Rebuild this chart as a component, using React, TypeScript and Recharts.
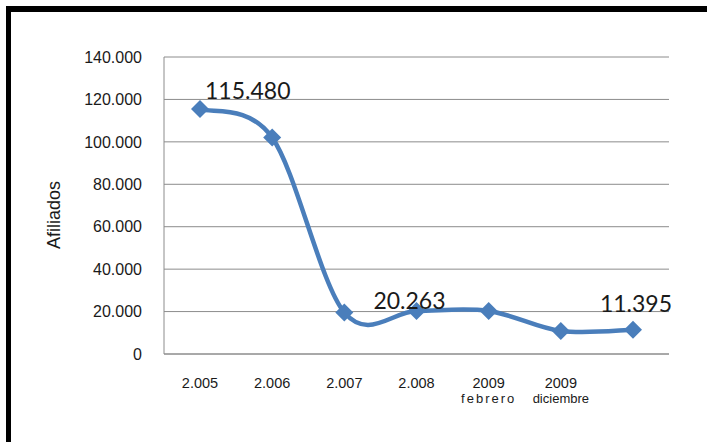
import React from "react"
import { CartesianGrid, LabelList, Line, LineChart, XAxis, YAxis } from "recharts"

const categories = ["2.005", "2.006", "2.007", "2.008", "2009\nfebrero", "2009\ndiciembre", ""]
const afiliados = [115480, 102000, 19600, 20263, 20300, 10850, 11395]
const showLabel = [true, false, false, true, false, false, true]
const yTicks = [0, 20000, 40000, 60000, 80000, 100000, 120000, 140000]

const data = categories.map((cat, i) => ({ cat, afiliados: afiliados[i], show: showLabel[i] }))

const fmt = (v: number) => String(v).replace(/\B(?=(\d{3})+(?!\d))/g, ".")

// Excel-like smoothed line (Catmull-Rom as cubic bezier)
function excelSmooth(context: any) {
  let pts: number[][] = []
  return {
    areaStart() {},
    areaEnd() {},
    lineStart() {
      pts = []
    },
    lineEnd() {
      if (!pts.length) return
      context.moveTo(pts[0][0], pts[0][1])
      for (let i = 0; i < pts.length - 1; i++) {
        const p0 = pts[Math.max(i - 1, 0)]
        const p1 = pts[i]
        const p2 = pts[i + 1]
        const p3 = pts[Math.min(i + 2, pts.length - 1)]
        context.bezierCurveTo(
          p1[0] + (p2[0] - p0[0]) / 6,
          p1[1] + (p2[1] - p0[1]) / 6,
          p2[0] - (p3[0] - p1[0]) / 6,
          p2[1] - (p3[1] - p1[1]) / 6,
          p2[0],
          p2[1]
        )
      }
    },
    point(x: number, y: number) {
      pts.push([+x, +y])
    },
  }
}

const Diamond = (props: any) => {
  const { cx, cy } = props
  const r = 9
  return (
    <polygon
      key={`d-${cx}`}
      points={`${cx},${cy - r} ${cx + r},${cy} ${cx},${cy + r} ${cx - r},${cy}`}
      fill="#4A7EBB"
    />
  )
}

const XTick = (props: any) => {
  const { x, y, payload } = props
  const lines = String(payload.value).split("\n")
  return (
    <g>
      {lines.map((t, i) => (
        <text
          key={i}
          x={x}
          y={y + 34 + i * 15}
          textAnchor="middle"
          fontFamily="Liberation Sans, Arial, sans-serif"
          fontSize={i === 0 ? 14.5 : 13}
          letterSpacing={t === "febrero" ? 2 : 0}
          fill="#1a1a1a"
        >
          {t}
        </text>
      ))}
    </g>
  )
}

const labelOffsets = [
  { dx: 5, dy: -10, anchor: "start" },
  null,
  null,
  { dx: -7, dy: -2, anchor: "middle" },
  null,
  null,
  { dx: 3, dy: -18, anchor: "middle" },
]

const ValueLabel = (props: any) => {
  const { x, y, value, index } = props
  const o = labelOffsets[index]
  if (!showLabel[index] || !o) return null
  return (
    <text
      x={x + o.dx}
      y={y + o.dy}
      textAnchor={o.anchor}
      fontFamily="Lato, sans-serif"
      fontSize={23}
      fill="#1a1a1a"
    >
      {fmt(value)}
    </text>
  )
}

export default function App() {
  return (
    <div style={{ position: "absolute", left: 0, top: 0, width: 707, height: 442, background: "#fff" }}>
      <div style={{ position: "absolute", left: 6, top: 6, width: 701, height: 6, background: "#000" }} />
      <div style={{ position: "absolute", left: 6, top: 6, width: 5, height: 436, background: "#000" }} />
      <LineChart
        width={707}
        height={442}
        data={data}
        margin={{ top: 57, right: 38, bottom: 0, left: 0 }}
        style={{ position: "absolute", left: 0, top: 0 }}
      >
        <CartesianGrid vertical={false} stroke="#8c8c8c" strokeWidth={1} />
        <XAxis
          dataKey="cat"
          height={88}
          padding={{ left: 36, right: 36 }}
          tick={<XTick />}
          tickLine={false}
          tickSize={0}
          tickMargin={0}
          interval={0}
          axisLine={{ stroke: "#8c8c8c" }}
        />
        <YAxis
          width={164}
          domain={[0, 140000]}
          ticks={yTicks}
          tickFormatter={fmt}
          tickLine={false}
          tickSize={0}
          tickMargin={22}
          axisLine={{ stroke: "#8c8c8c" }}
          tick={{ fontFamily: "Liberation Sans, Arial, sans-serif", fontSize: 16, fill: "#1a1a1a" }}
          label={{
            content: () => (
              <text
                x={60}
                y={215}
                transform="rotate(-90, 60, 215)"
                textAnchor="middle"
                fontFamily="Liberation Sans, Arial, sans-serif"
                fontSize={18}
                fill="#1a1a1a"
              >
                Afiliados
              </text>
            ),
          }}
        />
        <Line
          dataKey="afiliados"
          type={excelSmooth as any}
          stroke="#4A7EBB"
          strokeWidth={4.5}
          dot={<Diamond />}
          activeDot={false}
          isAnimationActive={false}
        >
          <LabelList dataKey="afiliados" content={<ValueLabel />} />
        </Line>
      </LineChart>
    </div>
  )
}
